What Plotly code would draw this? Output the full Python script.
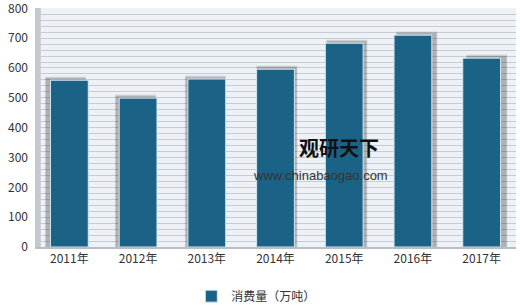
import plotly.graph_objects as go

categories = ["2011年", "2012年", "2013年", "2014年", "2015年", "2016年", "2017年"]
values = [559, 499, 563, 596, 683, 710, 633]
series_name = "消费量（万吨）"

BAR = "#1b6386"
FONT = "Noto Sans CJK SC, Noto Sans, sans-serif"
W = 0.55
n = len(categories)

fig = go.Figure()
# soft drop shadows (two layers for blur), spreading outwards from the centre
for spread, lift, col in [(0.05, 12, "rgba(0,0,0,0.10)"), (0.03, 8, "rgba(0,0,0,0.18)")]:
    offs = [-W / 2 + (i - 2.5) * 0.018 + (0.01 if i > 2 else -0.01) for i in range(n)]
    fig.add_trace(go.Bar(
        x=categories, y=[v + lift for v in values], width=W + spread,
        offset=[o - spread / 2 for o in offs],
        marker=dict(color=col, line=dict(width=0)), showlegend=False, hoverinfo="skip"))
fig.add_trace(go.Bar(
    x=categories, y=values, width=W, offset=-W / 2, name=series_name,
    marker=dict(color=BAR, line=dict(color="#d8e6ee", width=1))))

fig.update_layout(
    width=520, height=306,
    margin=dict(l=35, r=4, t=8, b=59, autoexpand=False),
    paper_bgcolor="white", plot_bgcolor="#eef2f7",
    barmode="overlay",
    font=dict(family=FONT, size=12, color="#333333"),
    showlegend=True,
    legend=dict(orientation="h", x=0.325, xanchor="left", y=-0.145, yanchor="top",
                bgcolor="white", font=dict(size=12, color="#333333"),
                itemwidth=30, traceorder="normal"),
    xaxis=dict(showgrid=False, showline=True, linecolor="#b8bec6", linewidth=2,
               ticks="", tickfont=dict(size=12, color="#333333")),
    yaxis=dict(range=[0, 801], tickvals=[0, 100, 200, 300, 400, 500, 600, 700, 800],
               showgrid=True, gridcolor="#c6ccd4", gridwidth=1,
               minor=dict(dtick=20, showgrid=True, gridcolor="#c6ccd4", gridwidth=1),
               zeroline=False, showline=False, ticks="", ticklabelstandoff=6,
               ticklabeloverflow="allow",
               tickfont=dict(size=12, color="#333333")),
    shapes=[dict(type="rect", xref="paper", yref="paper", x0=0, x1=0.012, y0=0, y1=1,
                 fillcolor="rgba(120,125,130,0.35)", line=dict(width=0), layer="below")],
    annotations=[
        dict(text="<b>观研天下</b>", x=0.632, y=0.415, xref="paper", yref="paper",
             showarrow=False, font=dict(size=20, color="#111111", family=FONT),
             xanchor="center", yanchor="middle"),
        dict(text="www.chinabaogao.com", x=0.593, y=0.30, xref="paper", yref="paper",
             showarrow=False, font=dict(size=13, color="#333333", family="Liberation Sans, Arial"),
             xanchor="center", yanchor="middle"),
    ],
)
fig.write_html("out.html")
